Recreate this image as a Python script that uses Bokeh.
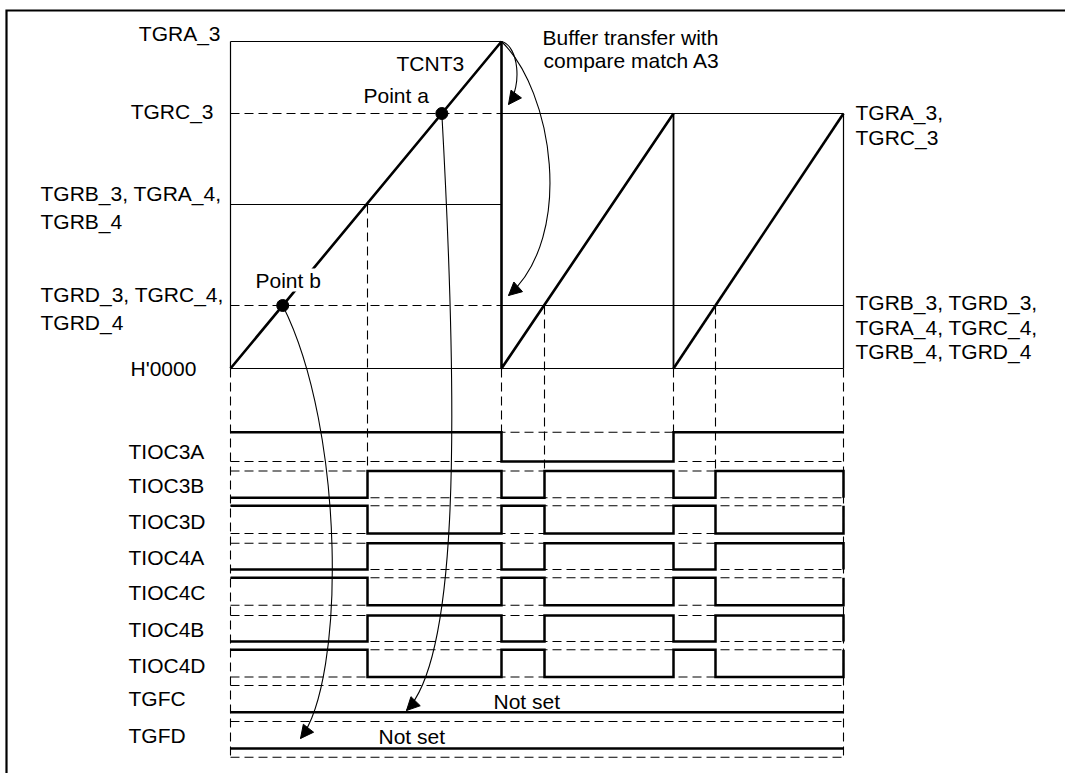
import numpy as np
from bokeh.plotting import figure
from bokeh.models import Range1d, Label, Arrow, NormalHead, ColumnDataSource
from bokeh.core.properties import value
from bokeh.embed import file_html
from bokeh.resources import INLINE

# ---------------- data ----------------
# TCNT3 sawtooth (time units, count units)
tcnt_t = [0, 271, 271, 443, 443, 613]
tcnt_v = [0, 327, 0, 255, 0, 255]

# compare register values (count units)
TGRA3_first = 327
TGRC3 = 255
TGRB3_first = 164
TGRD3 = 63
TGRA3_next = 255   # after buffer transfer (= TGRC_3)
TGRB3_next = 63    # after buffer transfer (= TGRD_3)

# event times: start, B-match, A-match, B-match, A-match, B-match, A-match
event_t = [0, 137, 271, 314, 443, 485, 613]

signal_names = ["TIOC3A", "TIOC3B", "TIOC3D", "TIOC4A", "TIOC4C",
                "TIOC4B", "TIOC4D", "TGFC", "TGFD"]
# level in each of the 6 intervals, then the level after the last event
signal_levels = [
    [1, 1, 0, 0, 1, 1, 1],
    [0, 1, 0, 1, 0, 1, 0],
    [1, 0, 1, 0, 1, 0, 1],
    [0, 1, 0, 1, 0, 1, 0],
    [1, 0, 1, 0, 1, 0, 1],
    [0, 1, 0, 1, 0, 1, 0],
    [1, 0, 1, 0, 1, 0, 1],
    [0, 0, 0, 0, 0, 0, 0],
    [0, 0, 0, 0, 0, 0, 0],
]
flag_texts = ["Not set", "Not set"]

left_reg_labels = ["TGRA_3", "TGRC_3", "TGRB_3, TGRA_4,", "TGRB_4",
                   "TGRD_3, TGRC_4,", "TGRD_4", "H'0000"]
right_reg_labels = ["TGRA_3,", "TGRC_3", "TGRB_3, TGRD_3,",
                    "TGRA_4, TGRC_4,", "TGRB_4, TGRD_4"]
note_texts = ["TCNT3", "Point a", "Buffer transfer with", "compare match A3"]

# ---------------- layout (positions / styles) ----------------
row_hi = [-63.7, -102.5, -137.3, -174.7, -209.3, -247.0, -281.3, -317.0, -353.0]
row_lo = [-93.0, -129.3, -165.0, -201.0, -236.7, -273.0, -308.5, -343.7, -380.0]
extra_dash_y = -388.7
row_label_x = -102
row_label_y = [-91, -125, -161, -197, -232, -269, -305, -338, -375]
flag_x = [263, 148]
flag_y = [-341, -376]
TXT_DY = 8.5   # baseline correction for rendered text

FONT = value("Liberation Sans")
FSIZE = value("21px")
DASH = "9 5"
K = "black"

p = figure(width=1065, height=773, x_range=Range1d(-230, 835),
           y_range=Range1d(-405, 368), output_backend="svg",
           toolbar_location=None, min_border=0, title=None,
           x_axis_location=None, y_axis_location=None)
p.grid.visible = False
p.outline_line_color = None
p.background_fill_color = "white"
p.border_fill_color = "white"

# frame (top and left edges; the others lie outside the picture)
p.line([840, -224, -224], [358, 358, -410], line_color=K, line_width=2.2,
       line_join="miter")

t_end = event_t[-1]
t_pk = tcnt_t[1]

# ---- register level lines ----
p.multi_line(xs=[[0, t_pk], [0, t_pk], [0, t_end]],
             ys=[[TGRA3_first] * 2, [TGRB3_first] * 2, [0, 0]],
             line_color=K, line_width=1.2)
p.multi_line(xs=[[0, t_pk], [0, t_pk]], ys=[[TGRC3] * 2, [TGRD3] * 2],
             line_color=K, line_width=1.1, line_dash=DASH)
p.multi_line(xs=[[t_pk, t_end], [t_pk, t_end]],
             ys=[[TGRA3_next] * 2, [TGRB3_next] * 2],
             line_color=K, line_width=1.2)
# verticals
p.line([0, 0], [0, TGRA3_first], line_color=K, line_width=1.2)
p.line([tcnt_t[3], tcnt_t[4]], [tcnt_v[3], tcnt_v[4]], line_color=K, line_width=1.8)
p.line([t_end, t_end], [0, TGRA3_next], line_color=K, line_width=1.2)

# ---- dashed verticals from match points down to waveforms ----
v_top = [0, TGRB3_first, 0, TGRB3_next, 0, TGRB3_next, 0]
vxs, vys = [], []
for i, t in enumerate(event_t):
    if i == 0 or i == len(event_t) - 1:
        yb = extra_dash_y
    else:
        r = next(k for k, lv in enumerate(signal_levels) if lv[i - 1] != lv[i])
        yb = row_hi[r]
    vxs.append([t, t])
    vys.append([v_top[i], yb])
p.multi_line(xs=vxs, ys=vys, line_color=K, line_width=1.1, line_dash=DASH)

# ---- dashed row guides ----
gx, gy = [], []
for hi, lo in zip(row_hi, row_lo):
    gx += [[0, t_end], [0, t_end]]
    gy += [[hi, hi], [lo, lo]]
gx.append([0, t_end]); gy.append([extra_dash_y, extra_dash_y])
p.multi_line(xs=gx, ys=gy, line_color=K, line_width=1.1, line_dash=DASH)

# ---- TCNT3 sawtooth ----
p.line(tcnt_t[:4], tcnt_v[:4], line_color=K, line_width=2.6)
p.line(tcnt_t[4:], tcnt_v[4:], line_color=K, line_width=2.6)

# ---- waveforms ----
wx, wy = [], []
for lv, hi, lo in zip(signal_levels, row_hi, row_lo):
    Y = (lambda l, hi=hi, lo=lo: hi if l else lo)
    xs = [event_t[0]]
    ys = [Y(lv[0])]
    for i in range(len(event_t) - 1):
        xs.append(event_t[i + 1]); ys.append(Y(lv[i]))
        if lv[i + 1] != lv[i]:
            xs.append(event_t[i + 1]); ys.append(Y(lv[i + 1]))
    wx.append(xs); wy.append(ys)
p.multi_line(xs=wx, ys=wy, line_color=K, line_width=2.5, line_join="miter")

# ---- points a and b ----
pa_x = t_pk * TGRC3 / TGRA3_first
pb_x = t_pk * TGRD3 / TGRA3_first
p.scatter([pa_x, pb_x], [TGRC3, TGRD3], size=12, color=K)

# ---- curved arrows ----
arrows = [
    ((pa_x, TGRC3), (230, -82), (225, -292), (176, -342)),
    ((pb_x, TGRD3), (115, -62), (115, -312), (70, -370)),
    ((t_pk, TGRA3_first), (288, 323), (292, 283), (278, 264)),
    ((t_pk, TGRA3_first), (322, 278), (345, 133), (278, 73)),
]
for s, c0, c1, e in arrows:
    p.bezier(x0=[s[0]], y0=[s[1]], x1=[e[0]], y1=[e[1]],
             cx0=[c0[0]], cy0=[c0[1]], cx1=[c1[0]], cy1=[c1[1]],
             line_color=K, line_width=1.1)
    p.add_layout(Arrow(x_start=c1[0], y_start=c1[1], x_end=e[0], y_end=e[1],
                       line_alpha=0,
                       end=NormalHead(size=13, fill_color=K, line_color=K, line_width=1)))

# ---- texts ----
def add_text(xs, ys, texts, align):
    src = ColumnDataSource(dict(x=xs, y=[v + TXT_DY for v in ys], t=texts))
    p.text(x="x", y="y", text="t", source=src, text_font=FONT,
           text_font_size=FSIZE, text_align=align,
           text_baseline="alphabetic", text_color=K)

add_text([-10, -17], [326.5, 248.7], left_reg_labels[:2], "right")
add_text([-190, -190, -190, -190, -100], [166.3, 138.7, 65.7, 37.3, -8.7],
         left_reg_labels[2:], "left")
add_text([625, 625, 625, 625, 625], [248, 223, 58, 33, 8.5],
         right_reg_labels, "left")
add_text([166, 133, 312, 313], [296.3, 264.7, 323, 300], note_texts, "left")
add_text([row_label_x] * len(signal_names), row_label_y, signal_names, "left")
add_text(flag_x, flag_y, flag_texts, "left")

p.add_layout(Label(x=25, y=80 + TXT_DY, text="Point b", text_font="Liberation Sans",
                   text_font_size="21px", text_color=K, text_align="left",
                   text_baseline="alphabetic", background_fill_color="white"))

open("out.html", "w").write(file_html(p, INLINE))
